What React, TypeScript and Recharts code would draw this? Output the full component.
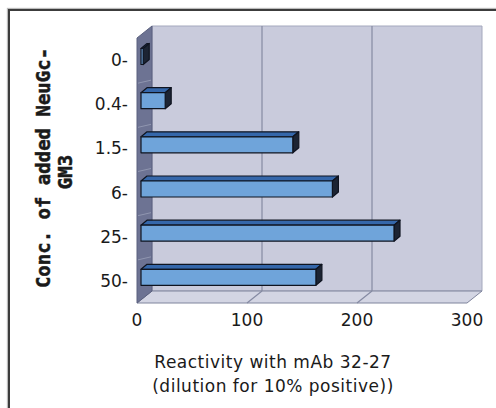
import React from 'react';
import { BarChart, Bar, XAxis, YAxis, ReferenceArea, ReferenceLine } from 'recharts';

const categories = ['0', '0.4', '1.5', '6', '25', '50'];
const reactivity = [2, 22, 138, 174, 230, 159];
const xTicks = [0, 100, 200, 300];
const gridValues = [100, 200];
const xTitle = ['Reactivity with mAb 32-27', '(dilution for 10% positive))'];
const yTitle = ['Conc. of added NeuGc-', 'GM3'];

const data = categories.map((c, i) => ({ conc: c, value: reactivity[i] }));

const DX = 15;
const DY = 12;
const BDX = 6;
const BDY = 5;
const BOX = 4;
const BOY = 3.5;

const Walls = (p: any) => {
  const { x, y, width, height } = p;
  const b = y + height;
  const r = x + width;
  const n = categories.length;
  const seps = [];
  for (let i = 1; i < n; i++) {
    const yy = y + (height * i) / n;
    seps.push(
      <line key={i} x1={x + 1} y1={yy + 1} x2={x + DX - 1} y2={yy - 2} stroke="#9096b0" strokeWidth={1} />
    );
  }
  return (
    <g>
      <polygon
        points={`${x + DX},${y - DY} ${r + DX},${y - DY} ${r + DX},${b - DY} ${x + DX},${b - DY}`}
        fill="#c9cbdc"
        stroke="#a4a8bd"
        strokeWidth={1}
      />
      <polygon
        points={`${x},${b} ${x + DX},${b - DY} ${r + DX},${b - DY} ${r},${b}`}
        fill="#d3d5e3"
        stroke="#7f849c"
        strokeWidth={1}
      />
      <polygon
        points={`${x},${y} ${x + DX},${y - DY} ${x + DX},${b - DY} ${x},${b}`}
        fill="#6d7393"
        stroke="#5a607e"
        strokeWidth={1}
      />
      {seps}
    </g>
  );
};

const GridLine3D = (p: any) => {
  const { x1, y1, y2 } = p;
  const top = Math.min(y1, y2);
  const bot = Math.max(y1, y2);
  return (
    <g stroke="#858aa2" strokeWidth={1.2} fill="none">
      <line x1={x1 + DX} y1={top - DY} x2={x1 + DX} y2={bot - DY} />
      <line x1={x1 + DX} y1={bot - DY} x2={x1} y2={bot} />
    </g>
  );
};

const Bar3D = (p: any) => {
  const { x, y, width, height } = p;
  const w = Math.max(width || 0, 0);
  const x0 = x + BOX;
  const y0 = y - BOY;
  const h = height;
  return (
    <g stroke="#0f1420" strokeWidth={1.2} strokeLinejoin="round">
      <polygon
        points={`${x0},${y0} ${x0 + BDX},${y0 - BDY} ${x0 + w + BDX},${y0 - BDY} ${x0 + w},${y0}`}
        fill="#3567aa"
      />
      <polygon
        points={`${x0 + w},${y0} ${x0 + w + BDX},${y0 - BDY} ${x0 + w + BDX},${y0 + h - BDY} ${x0 + w},${y0 + h}`}
        fill="#1c2433"
      />
      <rect x={x0} y={y0} width={w} height={h} fill="#6fa4da" />
    </g>
  );
};

const XTitle = () => (
  <g>
    {xTitle.map((t, i) => (
      <text
        key={i}
        x={273}
        y={368 + i * 24}
        textAnchor="middle"
        fontFamily="DejaVu Sans"
        fontSize={17}
        letterSpacing={0.5}
        fill="#1a1a1a"
      >
        {t}
      </text>
    ))}
  </g>
);

const YTitle = () => (
  <g>
    {yTitle.map((t, i) => {
      const cx = 50 + i * 22;
      const cy = i === 0 ? 168 : 172;
      return (
        <text
          key={i}
          x={cx}
          y={cy}
          transform={`rotate(-90, ${cx}, ${cy})`}
          textAnchor="middle"
          fontFamily="DejaVu Sans Mono"
          fontWeight="bold"
          fontSize={19}
          fill="#1a1a1a"
          stroke="#1a1a1a"
          strokeWidth={0.5}
        >
          {t}
        </text>
      );
    })}
  </g>
);

export default function App() {
  return (
    <div style={{ position: 'absolute', left: 0, top: 0, width: 496, height: 408, overflow: 'hidden', background: '#ffffff' }}>
      <div
        style={{
          position: 'absolute',
          left: 8,
          top: 9,
          width: 600,
          height: 600,
          border: '2px solid #3c3c3c',
          boxShadow: '-1px -1px 1px #bbbbbb',
          background: '#ffffff',
        }}
      />
      <div style={{ position: 'absolute', left: 0, top: 0 }}>
        <BarChart
          width={496}
          height={408}
          data={data}
          layout="vertical"
          margin={{ top: 38, right: 29, bottom: 65, left: 0 }}
          barCategoryGap={0}
        >
          <ReferenceArea x1={0} x2={300} shape={Walls} ifOverflow="visible" zIndex={-80} />
          {gridValues.map((g) => (
            <ReferenceLine key={g} x={g} shape={GridLine3D} ifOverflow="visible" zIndex={-70} />
          ))}
          <XAxis
            type="number"
            domain={[0, 300]}
            ticks={xTicks}
            tickLine={false}
            axisLine={false}
            tickSize={0}
            tickMargin={11}
            height={40}
            tick={{ fontSize: 17, fontFamily: 'DejaVu Sans', fill: '#1a1a1a' }}
            label={XTitle}
          />
          <YAxis
            type="category"
            dataKey="conc"
            width={137}
            tickLine={false}
            axisLine={false}
            tickSize={0}
            tickMargin={9}
            tickFormatter={(v: string) => `${v}-`}
            tick={{ fontSize: 17, fontFamily: 'DejaVu Sans', fill: '#1a1a1a' }}
            label={YTitle}
          />
          <Bar dataKey="value" barSize={16} shape={Bar3D} isAnimationActive={false} />
        </BarChart>
      </div>
    </div>
  );
}
